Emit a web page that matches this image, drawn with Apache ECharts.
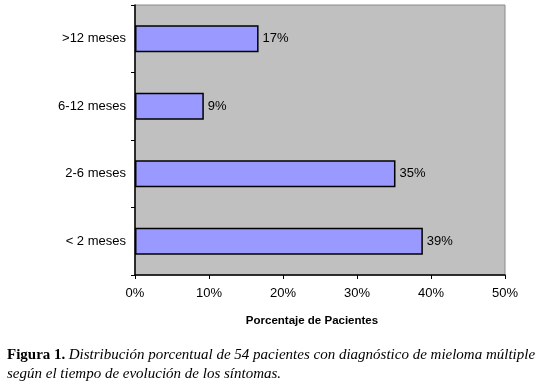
<!DOCTYPE html>
<html>
<head>
<meta charset="utf-8">
<script src="https://cdn.jsdelivr.net/npm/echarts@6/dist/echarts.min.js"></script>
<style>
  html, body { margin: 0; padding: 0; background: #fff; }
  #chart { width: 554px; height: 385px; }
</style>
</head>
<body>
<div id="chart"></div>
<script>
// categorias de abajo hacia arriba
var categorias = ['< 2 meses', '2-6 meses', '6-12 meses', '>12 meses'];
var porcentajes = [38.9, 35.2, 9.3, 16.7];
var ticksX = [0, 10, 20, 30, 40, 50];

var chart = echarts.init(document.getElementById('chart'));
chart.setOption({
    animation: false,
    grid: {
        left: 135,
        right: 49,
        top: 5,
        bottom: 110,
        show: true,
        backgroundColor: '#c0c0c0',
        borderColor: '#8a8a8a',
        borderWidth: 1
    },
    xAxis: {
        type: 'value',
        min: ticksX[0],
        max: ticksX[ticksX.length - 1],
        interval: 10,
        name: 'Porcentaje de Pacientes',
        nameLocation: 'middle',
        nameGap: 40,
        nameTextStyle: {
            fontFamily: 'Liberation Sans', fontSize: 11.5, fontWeight: 'bold', color: '#000',
            padding: [0, 16, 0, 0]
        },
        axisLine: { show: true, lineStyle: { color: '#000', width: 1.5 } },
        axisTick: { show: true, length: 4, lineStyle: { color: '#000' } },
        axisLabel: {
            formatter: '{value}%',
            fontFamily: 'Liberation Sans',
            fontSize: 13,
            color: '#000',
            margin: 12
        },
        splitLine: { show: false }
    },
    yAxis: {
        type: 'category',
        data: categorias,
        axisLine: { show: true, lineStyle: { color: '#000', width: 1.5 } },
        axisTick: { show: true, length: 4, lineStyle: { color: '#000' } },
        axisLabel: {
            fontFamily: 'Liberation Sans',
            fontSize: 13,
            color: '#000',
            margin: 9
        }
    },
    series: [{
        type: 'bar',
        data: porcentajes,
        barWidth: '40%',
        itemStyle: { color: '#9999ff', borderColor: '#000', borderWidth: 1.5 },
        label: {
            show: true,
            position: 'right',
            distance: 4,
            formatter: function (p) { return Math.round(p.value) + '%'; },
            fontFamily: 'Liberation Sans',
            fontSize: 13,
            color: '#000'
        }
    }],
    graphic: [{
        type: 'text',
        left: 7,
        top: 346,
        style: {
            text: '{b|Figura 1.} {i|Distribución porcentual de 54 pacientes con diagnóstico de mieloma múltiple}\n{i|según el tiempo de evolución de los síntomas.}',
            lineHeight: 19,
            rich: {
                b: { fontFamily: 'Liberation Serif', fontSize: 15, fontWeight: 'bold', fill: '#000', lineHeight: 19 },
                i: { fontFamily: 'Liberation Serif', fontSize: 15, fontStyle: 'italic', fill: '#000', lineHeight: 19 }
            }
        }
    }]
});
</script>
</body>
</html>
